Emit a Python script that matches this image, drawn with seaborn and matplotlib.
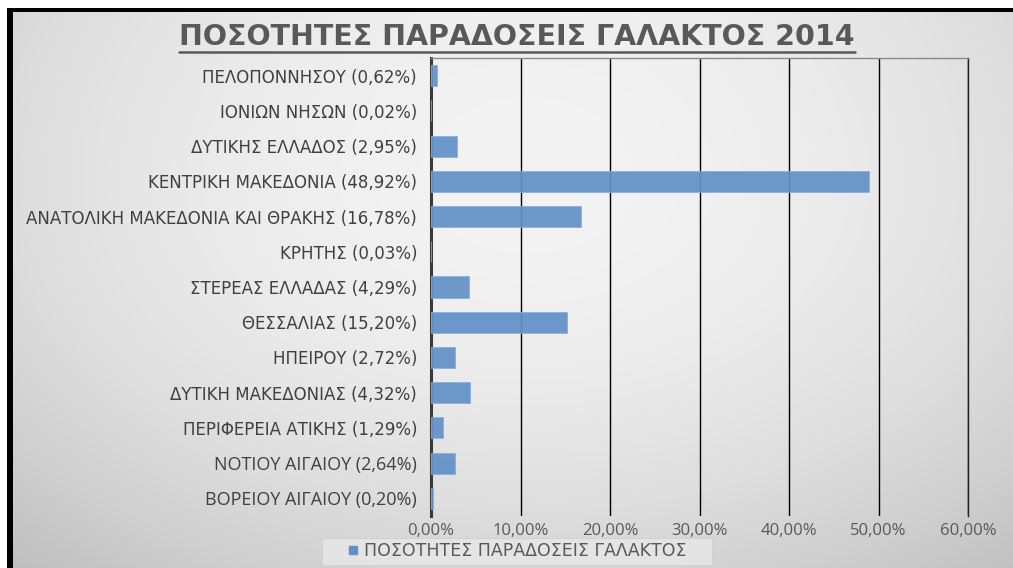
import numpy as np
import pandas as pd
import matplotlib
matplotlib.use("Agg")
import matplotlib.pyplot as plt
import seaborn as sns
from matplotlib.lines import Line2D
from matplotlib.patches import Rectangle
from matplotlib.ticker import FuncFormatter, MultipleLocator

# Milk deliveries 2014, share of national total per region (%)
regions = [
    "ΠΕΛΟΠΟΝΝΗΣΟΥ", "ΙΟΝΙΩΝ ΝΗΣΩΝ", "ΔΥΤΙΚΗΣ ΕΛΛΑΔΟΣ", "ΚΕΝΤΡΙΚΗ ΜΑΚΕΔΟΝΙΑ",
    "ΑΝΑΤΟΛΙΚΗ ΜΑΚΕΔΟΝΙΑ ΚΑΙ ΘΡΑΚΗΣ", "ΚΡΗΤΗΣ", "ΣΤΕΡΕΑΣ ΕΛΛΑΔΑΣ", "ΘΕΣΣΑΛΙΑΣ",
    "ΗΠΕΙΡΟΥ", "ΔΥΤΙΚΗ ΜΑΚΕΔΟΝΙΑΣ", "ΠΕΡΙΦΕΡΕΙΑ ΑΤΙΚΗΣ", "ΝΟΤΙΟΥ ΑΙΓΑΙΟΥ",
    "ΒΟΡΕΙΟΥ ΑΙΓΑΙΟΥ",
]
shares = [0.62, 0.02, 2.95, 48.92, 16.78, 0.03, 4.29, 15.20, 2.72, 4.32, 1.29, 2.64, 0.20]
x_ticks = [0, 10, 20, 30, 40, 50, 60]
series_name = "ΠΟΣΟΤΗΤΕΣ ΠΑΡΑΔΟΣΕΙΣ ΓΑΛΑΚΤΟΣ"
title = "ΠΟΣΟΤΗΤΕΣ ΠΑΡΑΔΟΣΕΙΣ ΓΑΛΑΚΤΟΣ 2014"


def pct(v):
    return f"{v:.2f}%".replace(".", ",")


labels = [f"{r} ({pct(v)})" for r, v in zip(regions, shares)]
df = pd.DataFrame({"label": labels, "share": shares})

sns.set_theme(style="white")
plt.rcParams["font.family"] = ["DejaVu Sans"]

W, H = 1013, 568
fig = plt.figure(figsize=(W / 100, H / 100), dpi=100, facecolor="white")

# full-size backdrop: white margin, black frame bands, soft grey gradient
py, px = np.mgrid[0:H, 0:W]
X = px / W
Y = py / H
u = (X - 0.52) / 0.5
w = np.where(Y > 0.32, ((Y - 0.32) / 0.68) ** 2, 0.15 * ((0.32 - Y) / 0.32) ** 2)
val = np.clip(243 - 22 * u ** 2 - 30 * w, 0, 255)
val[:8, :] = 255
val[:, :7] = 255
val[8:12, 7:] = 0
val[8:, 7:13] = 0
rgb = np.repeat((val / 255.0)[:, :, None], 3, axis=2)
fig.figimage(rgb, xo=0, yo=0, origin="upper", zorder=-10)

# plot area
L, R, T, B = 431, 968, 58, 516
ax = fig.add_axes([L / W, 1 - B / H, (R - L) / W, (B - T) / H])
ax.patch.set_alpha(0)

bar_color = "#6291C8"
sns.barplot(data=df, x="share", y="label", color=bar_color, width=0.6,
            saturation=1, edgecolor="#8DAED8", linewidth=0.6, alpha=0.93,
            ax=ax, label=series_name, zorder=3)
if ax.get_legend() is not None:
    ax.get_legend().remove()

ax.set_xlim(x_ticks[0], x_ticks[-1])
ax.xaxis.set_major_locator(MultipleLocator(10))
ax.xaxis.set_major_formatter(FuncFormatter(lambda v, p: pct(v)))
ax.set_xlabel("")
ax.set_ylabel("")
ax.grid(False)
ax.xaxis.grid(True, color="black", linewidth=1.0, zorder=0)
ax.set_axisbelow(True)

ax.tick_params(axis="both", length=0)
ax.tick_params(axis="y", pad=10, labelsize=12, labelcolor="#404040")
ax.tick_params(axis="x", pad=5, labelsize=12, labelcolor="#595959")
for t in ax.get_xticklabels():
    t.set_family(["Open Sans", "DejaVu Sans"])
for t in ax.get_yticklabels()[-2:]:
    t.set_family(["Open Sans", "DejaVu Sans"])
    t.set_fontsize(13)

ax.spines["left"].set_color("#3a3a3a")
ax.spines["left"].set_linewidth(2.2)
ax.spines["top"].set_color("#8a8a8a")
ax.spines["top"].set_linewidth(1.0)
ax.spines["right"].set_color("#202020")
ax.spines["right"].set_linewidth(1.0)
ax.spines["bottom"].set_visible(False)

# title with underline
tcol = "#595959"
ttl = fig.text(517 / W, 1 - 37 / H, title, ha="center", va="center",
               fontsize=20.5, fontweight="bold", color=tcol,
               family=["DejaVu Sans"])
fig.canvas.draw()
bb = ttl.get_window_extent(fig.canvas.get_renderer())
uy = (bb.y0 - 1) / H
fig.add_artist(Line2D([bb.x0 / W, bb.x1 / W], [uy, uy], transform=fig.transFigure,
                      color=tcol, linewidth=1.8))

# legend box at the bottom
fig.patches.append(Rectangle((322 / W, 1 - 565 / H), 390 / W, 27 / H,
                             transform=fig.transFigure, facecolor="#e4e4e4",
                             edgecolor="#d2d2d2", linewidth=0.8, zorder=1))
handle = Line2D([], [], marker="s", linestyle="none", markersize=6,
                markerfacecolor=bar_color, markeredgecolor=bar_color)
leg = fig.legend([handle], [series_name], loc="center",
                 bbox_to_anchor=(517 / W, 1 - 551 / H), frameon=False,
                 handlelength=0.7, handletextpad=0.3,
                 prop={"family": ["DejaVu Sans"], "size": 12.5})
for t in leg.get_texts():
    t.set_color("#595959")
leg.set_zorder(2)

fig.savefig("out.png", dpi=100, facecolor=fig.get_facecolor())
